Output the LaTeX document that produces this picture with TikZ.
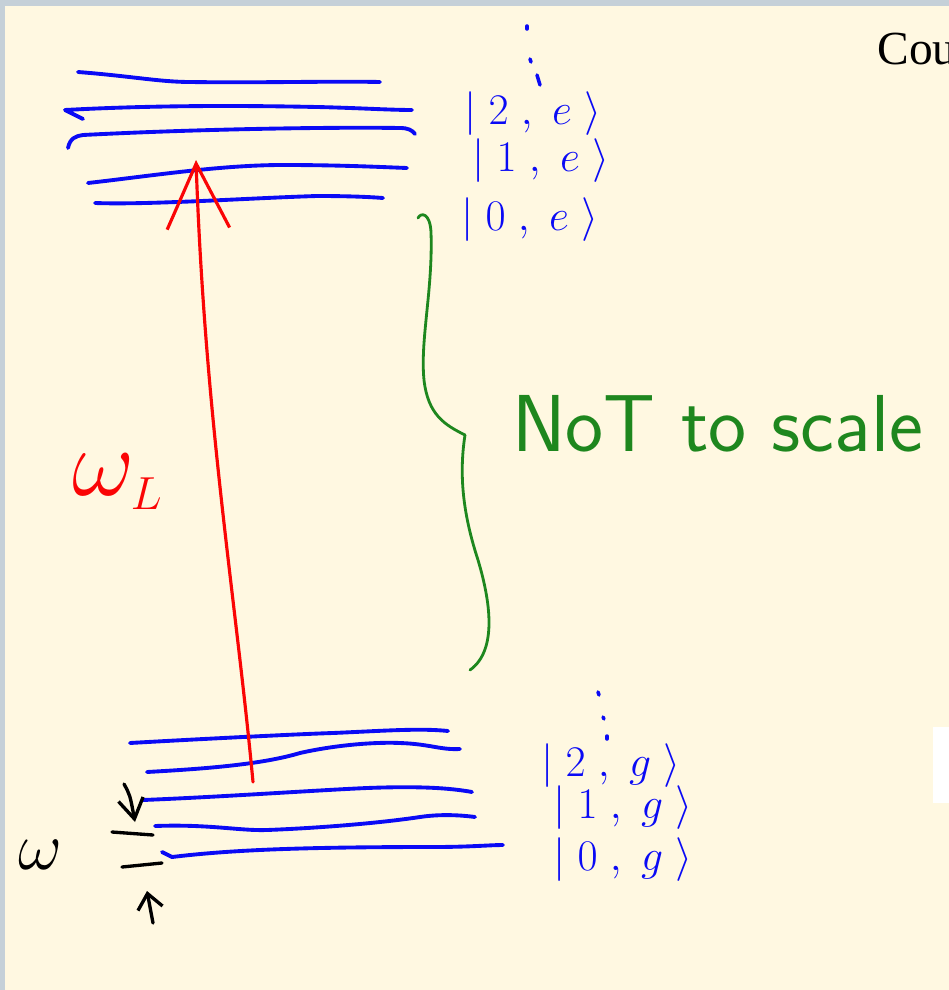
\documentclass[tikz,border=0pt]{standalone}
\usepackage{fontspec}
\usepackage{amsmath}
\usetikzlibrary{arrows.meta,positioning}
\newfontfamily\slideserif{Liberation Serif}
\definecolor{slidebg}{RGB}{255,248,225}
\definecolor{slideedge}{RGB}{197,208,216}
\definecolor{inkblue}{RGB}{10,10,245}
\definecolor{inkred}{RGB}{250,5,5}
\definecolor{inkgreen}{RGB}{30,135,30}

\begin{document}
\begin{tikzpicture}[x=0.02cm,y=-0.02cm,line cap=round,line join=round,
  elevel/.style={inkblue,line width=2.2pt},
  laser/.style={inkred,line width=1.8pt},
  gapmark/.style={black,line width=1.9pt},
  kettext/.style={inkblue,anchor=west,inner sep=0pt,font=\fontsize{25}{29}\selectfont},
  ketdots/.style={inkblue,line width=2pt}]
  \useasboundingbox (0,0) rectangle (949,990);
  \clip (0,0) rectangle (949,990);
  \fill[slideedge] (0,0) rectangle (949,990);
  \fill[slidebg] (5,6) rectangle (949,990);
  \fill[white] (933,727) rectangle (949,803);

  % excited manifold
  \draw[elevel] (78,72) .. controls (130,76) and (160,82) .. (190,82) .. controls (260,83) and (330,81) .. (380,82);
  \draw[elevel] (83,119) -- (65,110) .. controls (140,106) and (220,105) .. (317,107) .. controls (360,108) and (390,110) .. (412,110);
  \draw[elevel] (68,148) .. controls (70,138) and (76,136) .. (83,135) .. controls (200,129) and (330,127) .. (400,128) .. controls (408,128) and (412,130) .. (415,134);
  \draw[elevel] (88,183) .. controls (150,176) and (220,165) .. (283,165) .. controls (340,165) and (380,167) .. (407,168);
  \draw[elevel] (95,203) .. controls (150,205) and (250,198) .. (317,196) .. controls (350,196) and (370,197) .. (383,198);

  % ground manifold
  \draw[elevel] (130,743) .. controls (200,739) and (300,734) .. (333,733) .. controls (380,731) and (420,728) .. (448,731);
  \draw[elevel] (147,772) .. controls (200,769) and (260,765) .. (300,753) .. controls (340,744) and (380,742) .. (400,743) .. controls (430,744) and (440,750) .. (460,749);
  \draw[elevel] (143,800) .. controls (220,797) and (320,790) .. (367,788) .. controls (420,786) and (450,788) .. (472,792);
  \draw[elevel] (155,826) .. controls (210,824) and (240,831) .. (267,830) .. controls (320,828) and (380,823) .. (420,817) .. controls (440,814) and (460,815) .. (475,817);
  \draw[elevel] (162,852) -- (172,857) .. controls (230,850) and (300,847) .. (433,847) .. controls (470,847) and (490,845) .. (503,845);

  % level labels
  \draw[ketdots] (527,26) -- (527,29);
  \draw[ketdots] (530,59) -- (531,62);
  \draw[ketdots] (537,75) -- (540,85);
  \node[kettext] (ketTwoE) at (464,114) {$|\;2\;,\;e\;\rangle$};
  \node[kettext] (ketOneE) at (472,161) {$|\;1\;,\;e\;\rangle$};
  \node[kettext] (ketZeroE) at (461,220) {$|\;0\;,\;e\;\rangle$};
  \draw[ketdots] (598,692) -- (599,695);
  \draw[ketdots] (603,717) -- (604,719);
  \draw[ketdots] (607,736) -- (607,739);
  \node[kettext] (ketTwoG) at (541,766) {$|\;2\;,\;g\;\rangle$};
  \node[kettext] (ketOneG) at (553,808) {$|\;1\;,\;g\;\rangle$};
  \node[kettext] (ketZeroG) at (553,860) {$|\;0\;,\;g\;\rangle$};

  % laser drive
  \coordinate (laserFrom) at (253,782);
  \coordinate (laserTo) at (196,160);
  \draw[laser,-{Straight Barb[length=13mm,width=12.5mm]}] (laserFrom) .. controls (236,600) and (205,420) .. (laserTo);
  \node[inkred,font=\fontsize{24}{28}\selectfont] (omegaL) at (118,482) {\scalebox{2.2}{$\omega_{\scriptscriptstyle L}$}};

  % brace and note
  \draw[inkgreen,line width=1.6pt] (418,218) .. controls (421,212) and (430,213) .. (431,232)
    .. controls (433,290) and (420,340) .. (424,380) .. controls (428,415) and (445,425) .. (465,435);
  \coordinate (braceTip) at (465,435);
  \draw[inkgreen,line width=1.6pt] (braceTip) .. controls (458,480) and (465,520) .. (478,560)
    .. controls (490,600) and (498,650) .. (470,670);
  \node[inkgreen,anchor=west,inner sep=0pt,font=\sffamily\fontsize{46}{50}\selectfont] (scaleNote) at (512,424) {NoT to scale};

  % trap spacing
  \draw[gapmark] (112,832) -- (153,835);
  \draw[gapmark] (122,867) -- (162,863);
  \coordinate (gapTopFrom) at (124,784);
  \coordinate (gapTopTo) at (135,822);
  \coordinate (gapBotFrom) at (153,923);
  \coordinate (gapBotTo) at (147,891);
  \draw[gapmark,-{Straight Barb[length=4mm,width=5mm]}] (gapTopFrom) .. controls (130,795) .. (gapTopTo);
  \draw[gapmark,-{Straight Barb[length=3mm,width=5mm]}] (gapBotFrom) -- (gapBotTo);
  \node[font=\fontsize{24}{28}\selectfont] (omegaTrap) at (40,855) {\scalebox{1.55}{$\omega$}};

  \node[anchor=base west,inner sep=0pt,font=\slideserif\fontsize{27}{30}\selectfont] (slideText) at (877,65) {Cou};
\end{tikzpicture}
\end{document}
